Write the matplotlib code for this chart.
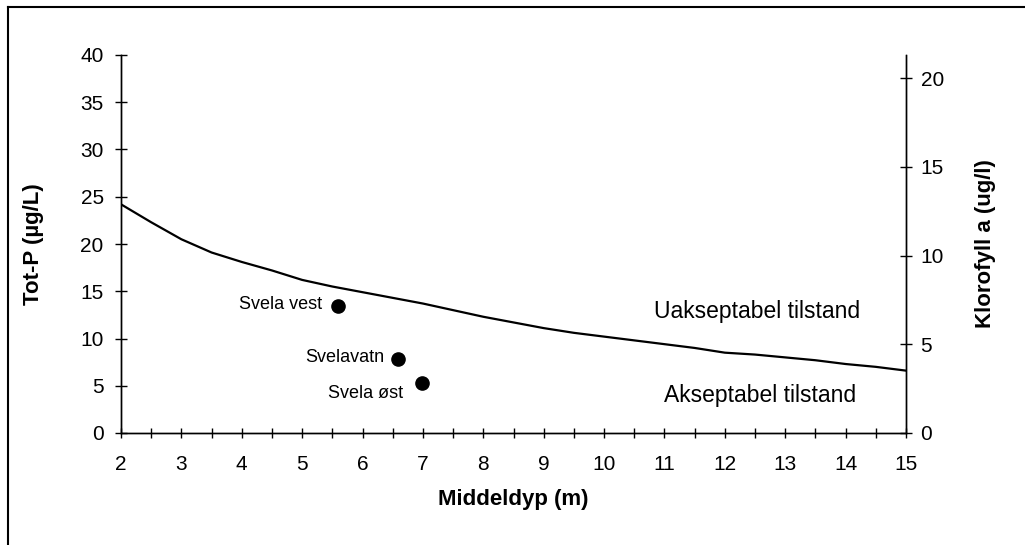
import matplotlib
matplotlib.use("Agg")
import matplotlib.pyplot as plt
from matplotlib.lines import Line2D

plt.rcParams['font.family'] = ['Liberation Sans', 'DejaVu Sans']

# Reference curve (Tot-P limit vs mean depth)
depth = [2, 2.5, 3, 3.5, 4, 4.5, 5, 5.5, 6, 6.5, 7, 7.5, 8, 8.5, 9, 9.5,
         10, 10.5, 11, 11.5, 12, 12.5, 13, 13.5, 14, 14.5, 15]
totp_limit = [24.2, 22.3, 20.5, 19.1, 18.1, 17.2, 16.2, 15.5, 14.9, 14.3, 13.7, 13.0,
              12.3, 11.7, 11.1, 10.6, 10.2, 9.8, 9.4, 9.0, 8.5, 8.3, 8.0, 7.7, 7.3, 7.0, 6.6]

# Lakes
lake_names = ["Svela vest", "Svelavatn", "Svela øst"]
lake_depth = [5.59, 6.59, 6.99]
lake_totp = [13.4, 7.85, 5.25]
label_offsets = [(-11, 1), (-10, 1), (-14, -7)]

W, H = 1025, 545
fig = plt.figure(figsize=(W / 100, H / 100), dpi=100)
ax = fig.add_axes([121 / W, (H - 433) / H, (906 - 121) / W, (433 - 55) / H])
ax2 = ax.twinx()

ax.plot(depth, totp_limit, color='black', lw=1.6, zorder=3)
ax.plot(lake_depth, lake_totp, 'o', color='black', ms=9.5, zorder=4)
for name, x, y, off in zip(lake_names, lake_depth, lake_totp, label_offsets):
    ax.annotate(name, (x, y), xytext=off, textcoords='offset points',
                ha='right', va='center', fontsize=13)

ax.text(12.53, 12.9, "Uakseptabel tilstand", ha='center', va='center', fontsize=16.5)
ax.text(12.58, 4.0, "Akseptabel tilstand", ha='center', va='center', fontsize=16.5)

ax.set_xlim(2, 15)
ax.set_ylim(0, 40)
ax2.set_ylim(0, 21.3)

ax.set_xticks(range(2, 16))
ax.set_xticks([x + 0.5 for x in range(2, 15)], minor=True)
ax.set_yticks(range(0, 41, 5))
ax2.set_yticks(range(0, 21, 5))

for a in (ax, ax2):
    for s in a.spines.values():
        s.set_linewidth(1.0)
        s.set_color('black')
    a.spines['top'].set_visible(False)

ax.tick_params(axis='y', direction='inout', length=9, width=1, labelsize=15, pad=8)
ax.tick_params(axis='x', which='both', direction='inout', length=7, width=1, labelsize=15, pad=12)
ax2.tick_params(axis='y', direction='inout', length=9, width=1, labelsize=15, pad=6)

ax.set_xlabel("Middeldyp (m)", fontsize=16, fontweight='bold', labelpad=11)
ax.set_ylabel("Tot-P (µg/L)", fontsize=16, fontweight='bold', labelpad=26)
ax2.set_ylabel("Klorofyll a (ug/l)", fontsize=16, fontweight='bold', labelpad=22)

# Figure border (left and top edges visible)
fig.add_artist(Line2D([8 / W, 8 / W], [0, 1 - 7 / H], transform=fig.transFigure, color='black', lw=1.5))
fig.add_artist(Line2D([8 / W, 1], [1 - 7 / H, 1 - 7 / H], transform=fig.transFigure, color='black', lw=1.5))

fig.savefig("out.png", dpi=100)
